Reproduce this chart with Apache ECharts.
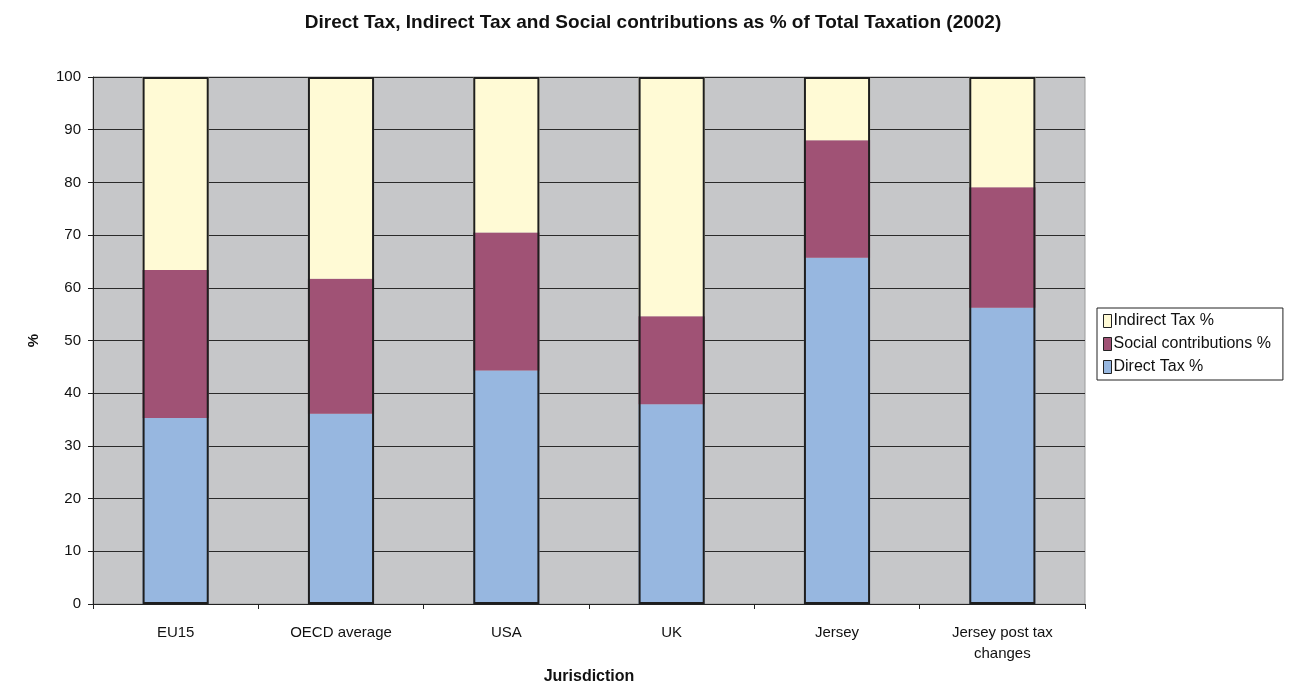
<!DOCTYPE html>
<html>
<head>
<meta charset="utf-8">
<script src="https://cdn.jsdelivr.net/npm/echarts@6/dist/echarts.min.js"></script>
<style>
  html, body { margin: 0; padding: 0; background: #fff; }
  #chart { width: 1313px; height: 687px; }
</style>
</head>
<body>
<div id="chart"></div>
<script>
// Tax structure by jurisdiction, shares of total taxation (%)
const categories = ['EU15', 'OECD average', 'USA', 'UK', 'Jersey', 'Jersey post tax\nchanges'];
const directTax = [35.3, 36.1, 44.3, 37.9, 65.7, 56.2];
const socialContributions = [28.1, 25.6, 26.2, 16.7, 22.3, 22.9];
const indirectTax = [36.6, 38.3, 29.5, 45.4, 12.0, 20.9];
const yTicks = [0, 10, 20, 30, 40, 50, 60, 70, 80, 90, 100];

// Total height of each stack, used for the black outline around the column
const stackTotals = categories.map((_, i) => directTax[i] + socialContributions[i] + indirectTax[i]);

const font = 'Liberation Sans, Arial, sans-serif';
const chart = echarts.init(document.getElementById('chart'), null, { renderer: 'canvas' });

chart.setOption({
  animation: false,
  backgroundColor: '#ffffff',
  textStyle: { fontFamily: font },
  title: {
    text: 'Direct Tax, Indirect Tax and Social contributions as % of Total Taxation (2002)',
    left: 648, top: 8, textAlign: 'center',
    textStyle: { fontSize: 19, fontWeight: 'bold', color: '#111', fontFamily: font }
  },
  grid: {
    left: 93, right: 228, top: 77, bottom: 83,
    outerBoundsMode: 'none', containLabel: false,
    show: true, backgroundColor: '#C6C7C9', borderColor: '#9a9a9a', borderWidth: 1
  },
  legend: {
    orient: 'vertical', left: 1097, top: 308,
    data: ['Indirect Tax %', 'Social contributions %', 'Direct Tax %'],
    icon: 'rect', itemWidth: 8, itemHeight: 13, itemGap: 7,
    padding: [5, 12, 5, 6],
    borderColor: '#222', borderWidth: 1, backgroundColor: '#fff',
    itemStyle: { borderColor: '#222', borderWidth: 1 },
    textStyle: { fontSize: 16, color: '#111', fontFamily: font, padding: [0, 0, 0, -3] }
  },
  xAxis: {
    type: 'category', data: categories,
    name: 'Jurisdiction', nameLocation: 'middle', nameGap: 62,
    nameTextStyle: { fontSize: 16, fontWeight: 'bold', color: '#111', fontFamily: font },
    axisLine: { lineStyle: { color: '#222', width: 1 } },
    axisTick: { show: true, alignWithLabel: false, length: 5, lineStyle: { color: '#222' } },
    axisLabel: { fontSize: 15, color: '#111', margin: 18, lineHeight: 21, fontFamily: font }
  },
  yAxis: {
    type: 'value', min: 0, max: 100, interval: 10,
    name: '%', nameLocation: 'middle', nameGap: 52, nameRotate: 90,
    nameTextStyle: { fontSize: 15, fontWeight: 'bold', color: '#111', fontFamily: font },
    axisLine: { show: true, lineStyle: { color: '#222', width: 1 } },
    axisTick: { show: true, length: 5, lineStyle: { color: '#222' } },
    axisLabel: {
      fontSize: 15, color: '#111', margin: 12, fontFamily: font,
      formatter: v => (yTicks.includes(v) ? String(v) : '')
    },
    splitLine: { show: true, lineStyle: { color: '#2a2a2a', width: 1 } }
  },
  series: [
    {
      name: 'Direct Tax %', type: 'bar', stack: 'tax', data: directTax,
      barWidth: '40%', itemStyle: { color: '#97B7E0' }
    },
    {
      name: 'Social contributions %', type: 'bar', stack: 'tax', data: socialContributions,
      barWidth: '40%', itemStyle: { color: '#A05275' }
    },
    {
      name: 'Indirect Tax %', type: 'bar', stack: 'tax', data: indirectTax,
      barWidth: '40%', itemStyle: { color: '#FFFAD5' }
    },
    {
      // outline drawn around each full column
      name: 'outline', type: 'bar', data: stackTotals, barGap: '-100%',
      barWidth: '40%', silent: true, z: 5,
      itemStyle: { color: 'rgba(0,0,0,0)', borderColor: '#1e1e1e', borderWidth: 2 }
    }
  ]
});
</script>
</body>
</html>
